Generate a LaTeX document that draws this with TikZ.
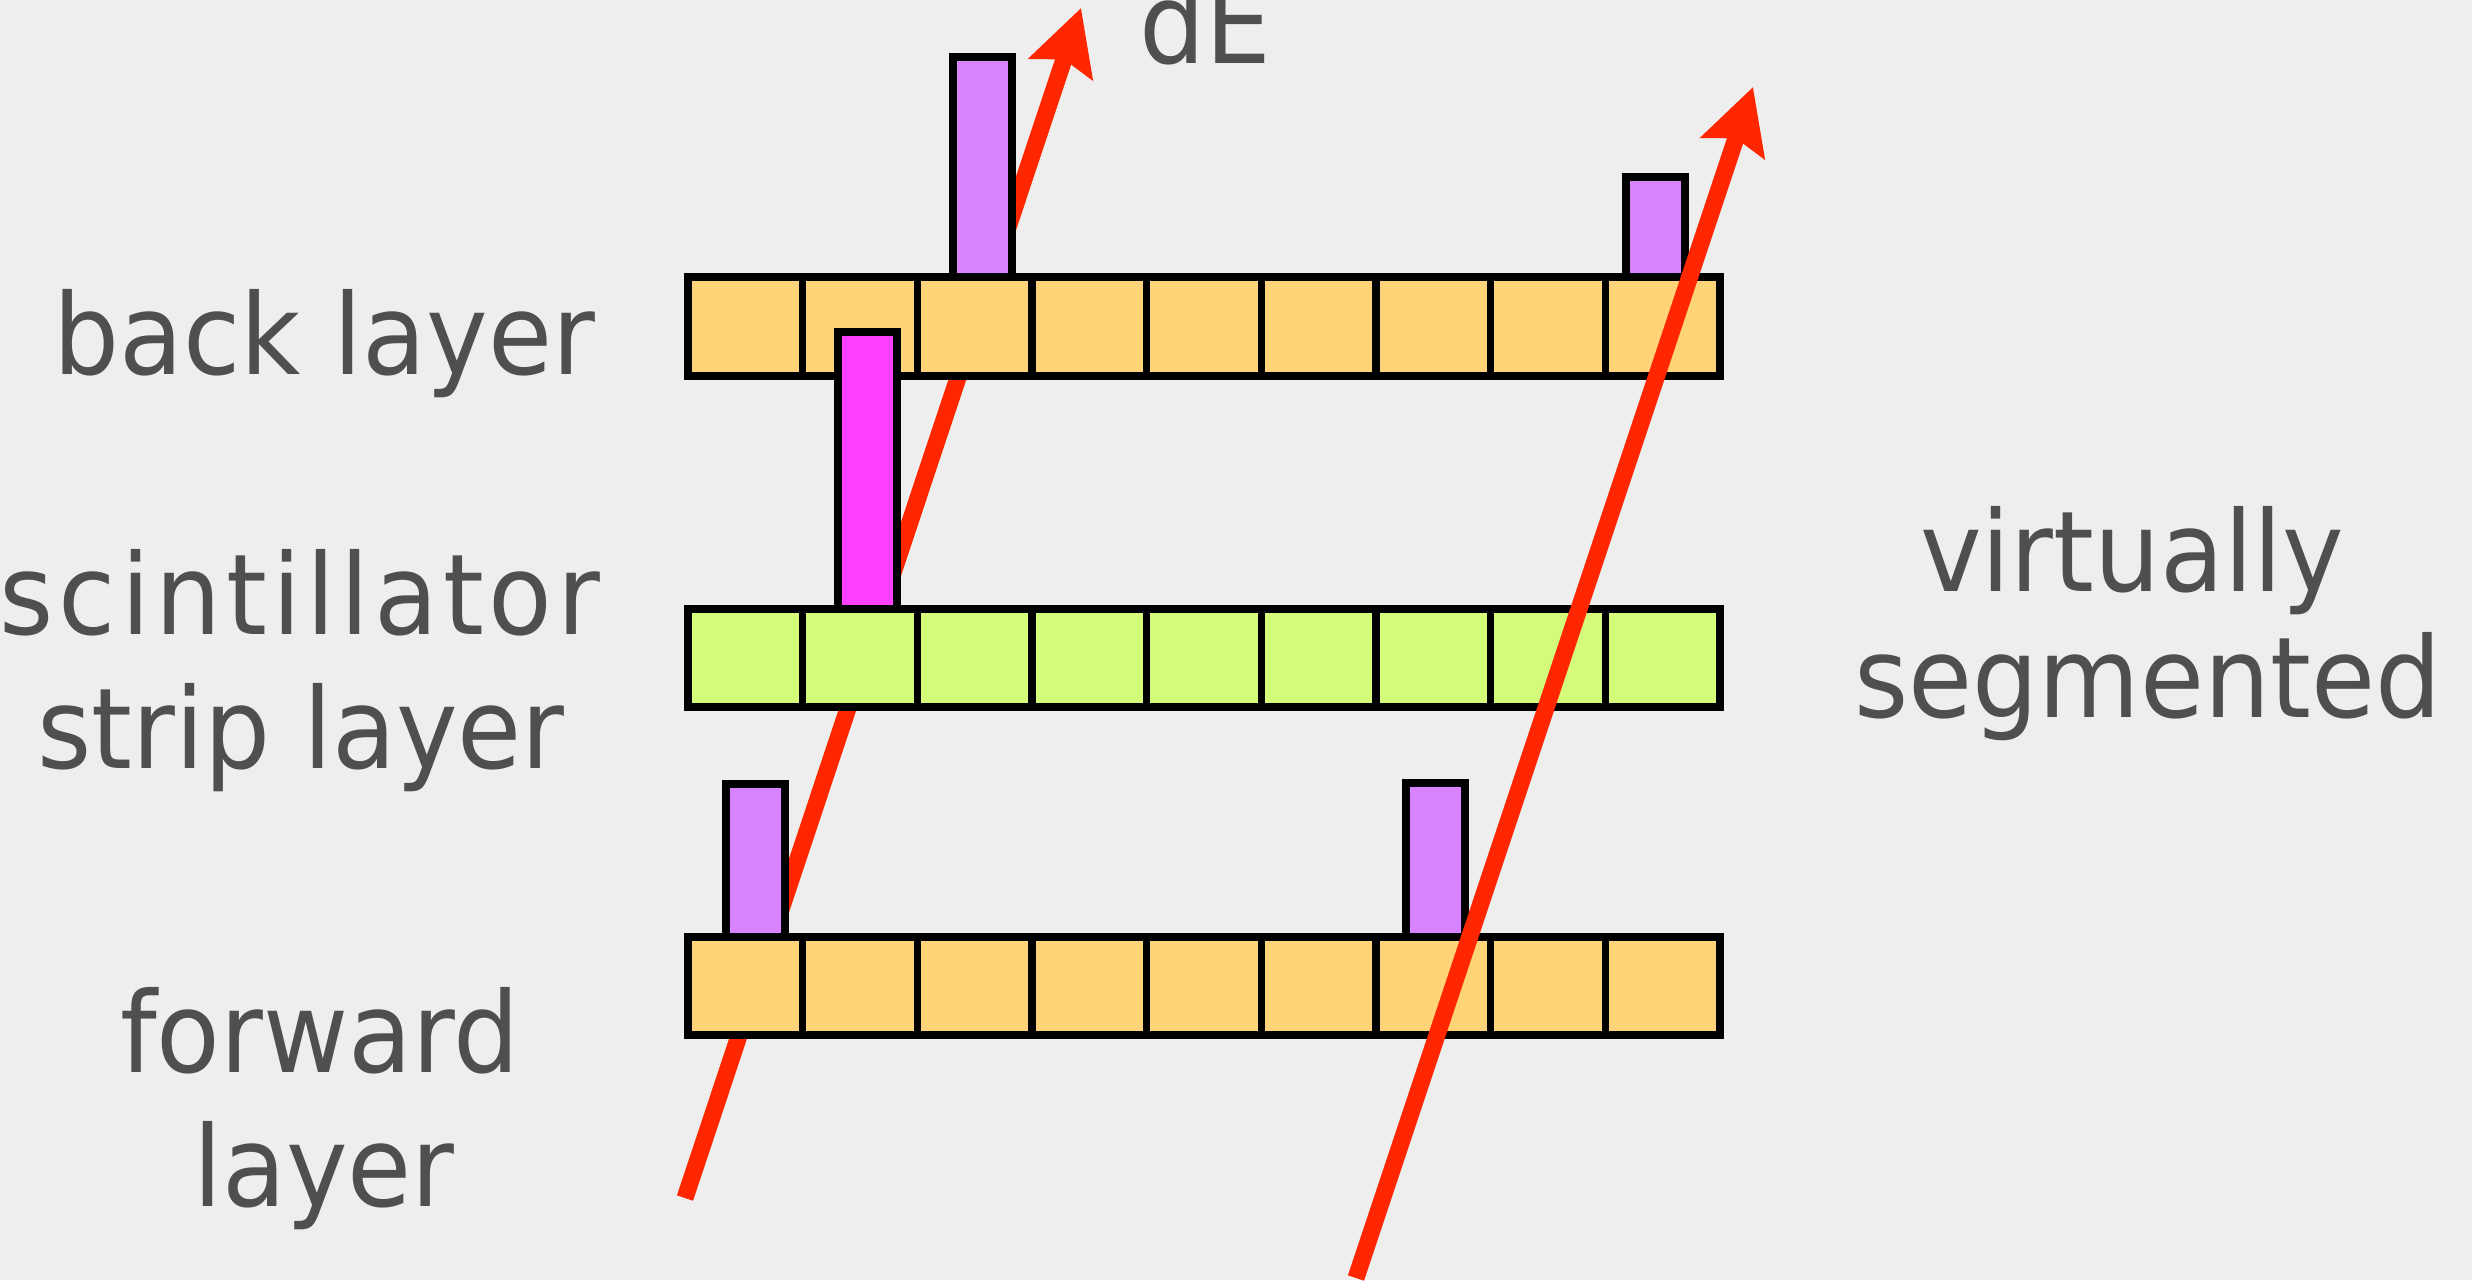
\documentclass[tikz,border=0pt]{standalone}
\usepackage{fontspec}
\setmainfont[FakeStretch=0.93]{DejaVu Sans}
\usetikzlibrary{arrows.meta}
\definecolor{bg}{RGB}{238,238,238}
\definecolor{cantaloupe}{HTML}{FFD479}
\definecolor{honeydew}{HTML}{D4FB79}
\definecolor{lavender}{HTML}{D783FF}
\definecolor{magentabar}{HTML}{FF40FF}
\definecolor{track}{HTML}{FF2600}
\definecolor{txt}{RGB}{77,79,81}
\begin{document}
\begin{tikzpicture}[x=0.5pt,y=-0.5pt,
  cellbox/.style={draw=black,line width=3.75pt},
  barbox/.style={draw=black,line width=3.75pt},
  lbl/.style={font=\fontsize{56pt}{67pt}\selectfont, text=txt, anchor=base, inner sep=0pt},
  trackline/.style={draw=track, line width=8.5pt, -{Stealth[length=32pt,width=33pt,inset=5pt]}}]
\useasboundingbox (0,0) rectangle (2472,1280);
\clip (0,0) rectangle (2472,1280);
\fill[bg] (0,0) rectangle (2472,1280);

% track endpoints
\coordinate (tAs) at (685,1198);
\coordinate (tAe) at (1081,8);
\coordinate (tBs) at (1356,1278);
\coordinate (tBe) at (1753,87);

% left track (behind everything)
\draw[trackline] (tAs) -- (tAe);

% layers
\foreach \i in {0,...,8}{
  \draw[cellbox, fill=cantaloupe] ({688+\i*114.67},277) rectangle ++(114.67,99);
  \draw[cellbox, fill=honeydew]   ({688+\i*114.67},609) rectangle ++(114.67,98);
  \draw[cellbox, fill=cantaloupe] ({688+\i*114.67},937) rectangle ++(114.67,98);
}

% signal bars
\draw[barbox, fill=lavender] (953,57) rectangle (1012,277);
\draw[barbox, fill=lavender] (1626,177) rectangle (1685,277);
\draw[barbox, fill=magentabar] (838,332) rectangle (897,609);
\draw[barbox, fill=lavender] (726,784) rectangle (785,937);
\draw[barbox, fill=lavender] (1406,783) rectangle (1465,937);

% right track (in front)
\draw[trackline] (tBs) -- (tBe);

% labels
\node[lbl] (dE) at (1205,63) {dE};
\node[lbl] (back) at (324,374) {back layer};
\node[lbl] (scintA) at (300,634) {\addfontfeature{LetterSpace=4.5}scintillator};
\node[lbl] (scintB) at (301,768) {strip layer};
\node[lbl] (fwdA) at (320,1072) {forward};
\node[lbl] (fwdB) at (324,1206) {layer};
\node[lbl] (virtA) at (2132,591) {virtually};
\node[lbl] (virtB) at (2148,717) {segmented};
\end{tikzpicture}
\end{document}
